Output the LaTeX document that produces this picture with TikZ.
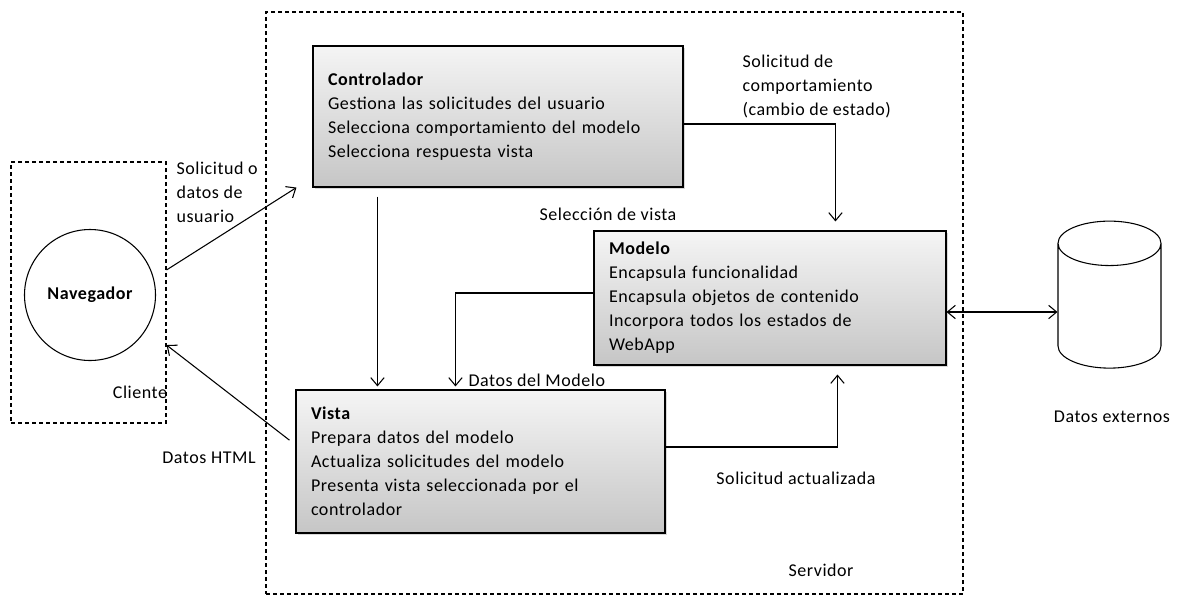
\documentclass[tikz,border=0pt]{standalone}
\usepackage{fontspec}
\setmainfont{Carlito}[LetterSpace=3]
\usetikzlibrary{arrows.meta, shadows, shapes.geometric}

\begin{document}
\begin{tikzpicture}[x=0.75pt, y=-0.75pt, line width=0.8pt, font=\fontsize{13.5}{18}\selectfont,
    >={Straight Barb[length=6pt, width=10pt]},
    main/.style = {draw, rectangle, top color=gray!8, bottom color=gray!45, align=left, inner xsep=11.25pt,
        drop shadow={opacity=0.3, shadow xshift=1.5pt, shadow yshift=-1.5pt}},
    zone/.style = {draw, dash pattern=on 3pt off 2.25pt, rectangle},
    txt/.style = {align=left, inner sep=0pt}]
    \useasboundingbox (0,0) rectangle (1178,597);
    \node[zone, minimum width=522.75pt, minimum height=436.5pt] (s) at (614.5,303) {};
    \node[zone, minimum width=116.25pt, minimum height=195.75pt] (c) at (88.5,292.5) {};
    \node[draw, circle, minimum size=98.25pt, inner sep=0pt, font=\fontsize{13.5}{18}\selectfont\bfseries] (4) at (90,295) {Navegador};
    \node[main, text width=255pt, minimum height=105.75pt] (1) at (498,116.5) {\textbf{Controlador}\\Gestiona las solicitudes del usuario\\Selecciona comportamiento del modelo\\Selecciona respuesta vista};
    \node[main, text width=241.5pt, minimum height=100.5pt] (2) at (770,298) {\textbf{Modelo}\\Encapsula funcionalidad\\Encapsula objetos de contenido\\Incorpora todos los estados de\\WebApp};
    \node[main, text width=254.25pt, minimum height=107.25pt] (3) at (480.5,461.5) {\textbf{Vista}\\Prepara datos del modelo\\Actualiza solicitudes del modelo\\Presenta vista seleccionada por el\\controlador};
    \node[draw, cylinder, shape border rotate=90, aspect=5, minimum width=77.25pt, minimum height=110.25pt] (5) at (1109.5,310.5) {};
    \node[txt, anchor=west] (6) at (176,192) {Solicitud o\\datos de\\usuario};
    \node[txt] (7) at (140,392) {Cliente};
    \node[txt] (8) at (209,458) {Datos HTML};
    \node[txt] (9) at (608,214) {Selección de vista};
    \node[txt, anchor=west] (10) at (742,86) {Solicitud de\\comportamiento\\(cambio de estado)};
    \node[txt, anchor=west] (11) at (468,380) {Datos del Modelo};
    \node[txt] (12) at (796,478) {Solicitud actualizada};
    \node[txt] (13) at (821,570) {Servidor};
    \node[txt] (14) at (1112,417) {Datos externos};
    \draw[->] ([yshift=16.9pt]c.east) -- ([xshift=-12pt]1.south west);
    \draw[->] ([xshift=-4.5pt, yshift=16pt]3.west) -- ([yshift=-39.4pt]c.east);
    \draw[->] ([xshift=48.75pt, yshift=-6.75pt]1.south west) -- ([xshift=61.5pt, yshift=2.25pt]3.north west);
    \draw[->] ([yshift=3.75pt]2.west) -| ([xshift=120pt, yshift=2.25pt]3.north west);
    \draw[->] ([yshift=-5.6pt]1.east) -| ([xshift=181.5pt, yshift=6.75pt]2.north west);
    \draw[->] ([yshift=10.9pt]3.east) -| ([xshift=183pt, yshift=-6.75pt]2.south west);
    \draw[<->] ([yshift=-10.5pt]2.east) -- ([yshift=-10.5pt]2.east -| 5.west);
\end{tikzpicture}
\end{document}
